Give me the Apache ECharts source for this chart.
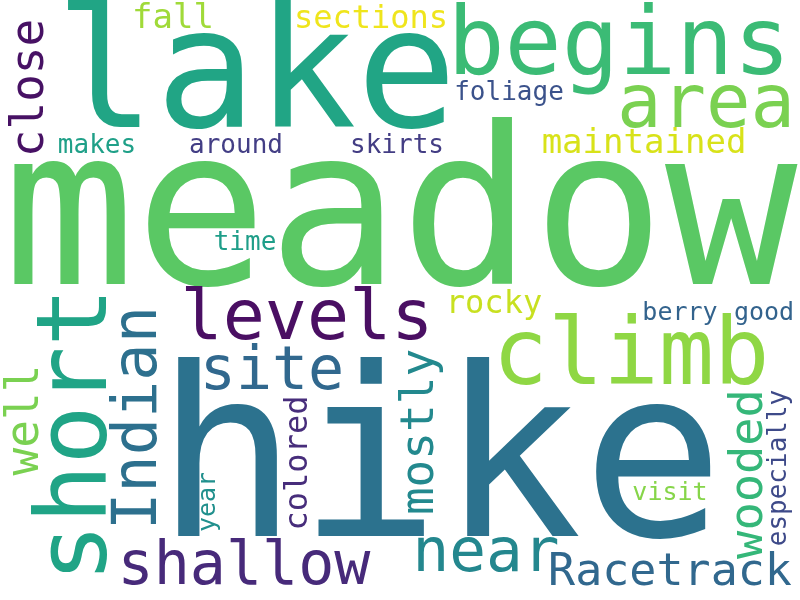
<!DOCTYPE html>
<html>
<head>
<meta charset="utf-8">
<script src="https://cdn.jsdelivr.net/npm/echarts@6/dist/echarts.min.js"></script>
<style>html,body{margin:0;padding:0;background:#fff;}#c{width:800px;height:600px;}</style>
</head>
<body>
<div id="c"></div>
<script>
// Word list and relative weights (font size)
const words   = ["meadow","lake","begins","area","close","fall","sections","foliage","maintained","makes","around","skirts","time","levels","hike","short","Indian","site","well","shallow","colored","year","climb","rocky","berry","good","mostly","near","Racetrack","wooded","especially","visit"];
const weights = [220,167,95,74,46,34,32,26,34,26,26,26,26,70,236,98,62,60,46,60,32,25,92,32,25,25,46,61,45,47,26,25];
// layout: centre x, baseline y (horizontal) or baseline x, centre y (vertical)
const posX    = [400,256,619,706,43,173,371,509,644,97,236,397,245,307,440,107,157,272,38,244,307,215,631,494,680,764,433,486,670,762,786,670];
const posY    = [286,129,75,128,88,28,28,100,153,153,153,153,250,340,538,435,418,390,420,585,463,502,385,313,320,320,432,572,585,474,468,500];
const vertical= [0,0,0,0,1,0,0,0,0,0,0,0,0,0,0,1,1,0,1,0,1,1,0,0,0,0,1,0,0,1,1,0];
const colors  = ["#5ac864","#21a585","#3bbb75","#7ad151","#471164","#a0da39","#efe51c","#3b528b","#d8e219","#1fa088","#433e85","#433d84","#1f9e89","#4a0f63","#2c728e","#20a486","#2d708e","#31688e","#7ad151","#472a7a","#472d7b","#21908d","#8fd744","#c8e020","#33638d","#33638d","#23898e","#24878e","#31688e","#35b779","#3e4a89","#86d549"];

const MID = 0.27; // baseline -> em middle offset
const data = words.map((w, i) => {
  const f = weights[i];
  const v = vertical[i] === 1;
  const x = v ? posX[i] - MID * f : posX[i];
  const y = v ? posY[i] : posY[i] - MID * f;
  return {
    name: w,
    value: [x, y],
    label: {
      show: true,
      formatter: w,
      fontSize: f,
      rotate: v ? 90 : 0,
      color: colors[i],
      opacity: 1
    }
  };
});

const chart = echarts.init(document.getElementById('c'));
chart.setOption({
  backgroundColor: '#ffffff',
  animation: false,
  grid: { left: 0, right: 0, top: 0, bottom: 0 },
  xAxis: { type: 'value', min: 0, max: 800, show: false },
  yAxis: { type: 'value', min: 0, max: 600, inverse: true, show: false },
  series: [{
    type: 'scatter',
    symbolSize: 0,
    itemStyle: { opacity: 1 },
    data: data,
    label: {
      show: true,
      position: 'inside',
      align: 'center',
      verticalAlign: 'middle',
      fontFamily: 'DejaVu Sans Mono',
      opacity: 1
    },
    emphasis: { disabled: true }
  }]
});
</script>
</body>
</html>
